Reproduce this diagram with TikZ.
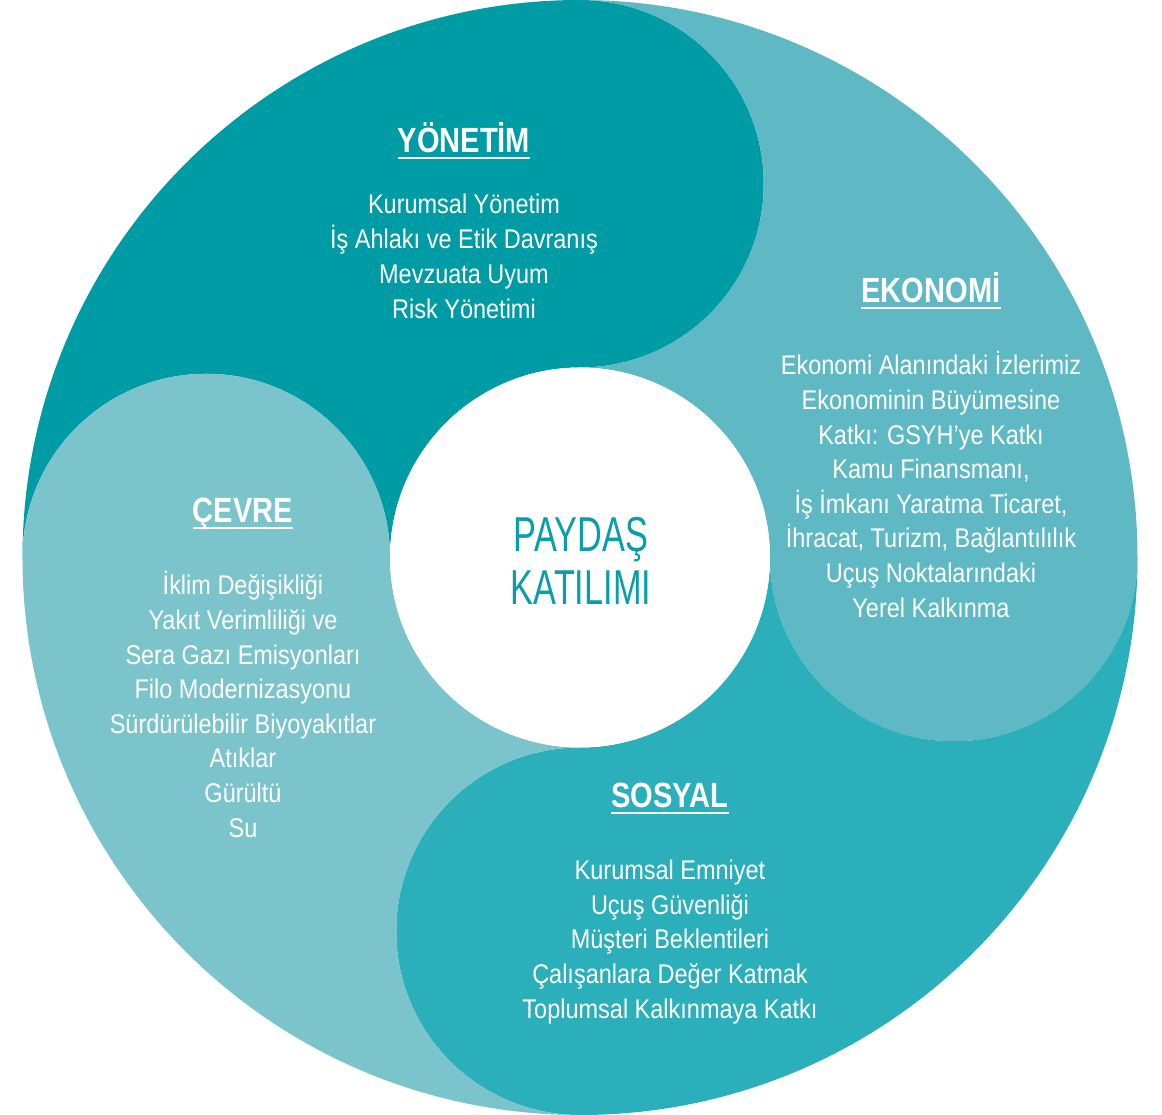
\documentclass[tikz,border=0pt]{standalone}
\usepackage{fontspec}
\setmainfont{Liberation Sans}[FakeStretch=0.87]
\newfontfamily\topicfont{Liberation Sans}[FakeStretch=0.83]
\newfontfamily\hubfont{Liberation Sans}[FakeStretch=0.7]
\definecolor{yonetim}{HTML}{009CA6}
\definecolor{ekonomi}{HTML}{5FB9C4}
\definecolor{sosyal}{HTML}{2BAFBB}
\definecolor{cevre}{HTML}{7CC4CC}
\definecolor{hubtext}{HTML}{0A9EA8}
\tikzset{
  topic/.style={anchor=base, inner sep=0pt, text=white, font=\topicfont\fontsize{35}{38}\selectfont\bfseries},
  entry/.style={anchor=base, inner sep=0pt, text=white, font=\fontsize{27}{30}\selectfont},
  hubline/.style={anchor=base, inner sep=0pt, text=hubtext, font=\hubfont\fontsize{49}{52}\selectfont},
}
\begin{document}
\begin{tikzpicture}[x=1pt, y=1pt, line cap=round]
	\def\R{557.5} \def\r{190} \def\l{183.75} % dis, ic ve lob yaricaplari
	\useasboundingbox (-580,-557.5) rectangle (582,557.5);
	% dort kivrimli dilim
	\foreach \ang/\col in {0/yonetim,-90/ekonomi,-180/sosyal,-270/cevre}
		\fill[\col, rotate=\ang] (0,\R) arc[start angle=90, end angle=180, radius=\R]
			arc[start angle=180, end angle=0, radius=\l]
			arc[start angle=180, end angle=90, radius=\r]
			arc[start angle=-90, end angle=90, radius=\l] -- cycle;
	\node[circle, fill=white, minimum size=380pt, inner sep=0pt] (hub) at (0,0) {};
	\node[hubline] (paydas) at (1,5.5) {PAYDAŞ};
	\node[hubline] (katilim) at (1,-47.5) {KATILIMI};
	% basliklar
	\node[topic] (yon) at (-116,404.5) {YÖNETİM};
	\node[topic] (eko) at (351,254.5) {EKONOMİ};
	\node[topic] (cev) at (-337,34.5) {ÇEVRE};
	\node[topic] (sos) at (90,-250.5) {SOSYAL};
	\foreach \h in {yon,eko,cev,sos}
		\draw[white, line width=2pt, line cap=butt] ([yshift=-5pt]\h.base west) -- ([yshift=-5pt]\h.base east);
	% maddeler
	\foreach \t [count=\i] in {Kurumsal Yönetim, İş Ahlakı ve Etik Davranış, Mevzuata Uyum, Risk Yönetimi}
		\node[entry] (yon\i) at (-116,378.5-35*\i) {\t};
	\foreach \t [count=\i] in {Ekonomi Alanındaki İzlerimiz, Ekonominin Büyümesine, Katkı: GSYH’ye Katkı, {Kamu Finansmanı,}, {İş İmkanı Yaratma Ticaret,}, {İhracat, Turizm, Bağlantılılık}, Uçuş Noktalarındaki, Yerel Kalkınma}
		\node[entry] (eko\i) at (351,217.1-34.6*\i) {\t};
	\foreach \t [count=\i] in {İklim Değişikliği, Yakıt Verimliliği ve, Sera Gazı Emisyonları, Filo Modernizasyonu, Sürdürülebilir Biyoyakıtlar, Atıklar, Gürültü, Su}
		\node[entry] (cev\i) at (-337,-2.9-34.6*\i) {\t};
	\foreach \t [count=\i] in {Kurumsal Emniyet, Uçuş Güvenliği, Müşteri Beklentileri, Çalışanlara Değer Katmak, Toplumsal Kalkınmaya Katkı}
		\node[entry] (sos\i) at (90,-288-34.5*\i) {\t};
\end{tikzpicture}
\end{document}
